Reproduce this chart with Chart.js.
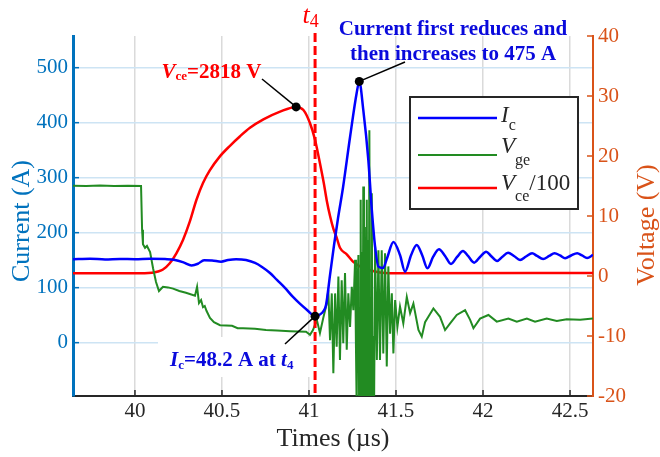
<!DOCTYPE html>
<html>
<head>
<meta charset="utf-8">
<script src="https://cdn.jsdelivr.net/npm/chart.js@4.4.0/dist/chart.umd.min.js"></script>
<style>
  html, body { margin: 0; padding: 0; background: #fff; }
  #wrap { width: 660px; height: 457px; }
</style>
</head>
<body>
<div id="wrap"><canvas id="turnOff" width="660" height="457"></canvas></div>
<script>
// Turn-off transient: collector current on the left axis,
// gate voltage and scaled collector voltage on the right axis.

const FONT = '"Liberation Serif", "Times New Roman", serif';

// collector current Ic (A)
const icTime = [39.644, 39.742, 39.828, 39.914, 40.000, 40.087, 40.173, 40.230, 40.282, 40.325,
  40.362, 40.397, 40.443, 40.495, 40.535, 40.581, 40.638, 40.690, 40.730, 40.776,
  40.816, 40.862, 40.908, 40.949, 40.989, 41.035, 41.063, 41.081, 41.098, 41.121,
  41.144, 41.167, 41.196, 41.236, 41.274, 41.289, 41.312, 41.341, 41.361, 41.380,
  41.399, 41.426, 41.449, 41.485, 41.523, 41.552, 41.587, 41.619, 41.650, 41.681,
  41.713, 41.747, 41.782, 41.816, 41.851, 41.885, 41.914, 41.949, 41.983, 42.018,
  42.046, 42.081, 42.110, 42.144, 42.178, 42.213, 42.247, 42.282, 42.311, 42.345,
  42.380, 42.411, 42.443, 42.472, 42.506, 42.541, 42.569, 42.598, 42.632];
const icValue = [151.6, 152.5, 151.3, 152.2, 151.8, 152.6, 151.9, 150.4, 145.5, 140.4,
  143.5, 149.8, 149.5, 147.3, 150.2, 151.8, 150.4, 144.9, 137.6, 126.7,
  114.0, 99.5, 83.1, 70.4, 59.5, 48.2, 51.3, 56.4, 68.5, 123.1,
  177.6, 226.7, 283.1, 374.0, 454.0, 475.0, 423.1, 332.2, 241.3, 174.0,
  138.2, 135.8, 154.0, 183.1, 159.5, 129.1, 159.5, 177.6, 159.5, 135.3,
  155.8, 169.8, 157.6, 143.1, 155.8, 166.7, 157.6, 145.5, 155.8, 165.5,
  157.6, 148.5, 155.8, 163.6, 157.6, 150.4, 156.7, 162.5, 157.6, 152.2,
  157.6, 162.5, 158.5, 153.5, 158.5, 162.5, 158.5, 154.0, 159.5];

// gate-emitter voltage Vge (V)
const vgeTime = [39.644, 39.720, 39.799, 39.880, 39.960, 40.035, 40.041, 40.046, 40.058, 40.069,
  40.087, 40.104, 40.121, 40.138, 40.161, 40.190, 40.219, 40.255, 40.293, 40.345,
  40.357, 40.368, 40.380, 40.391, 40.401, 40.411, 40.431, 40.454, 40.489, 40.558,
  40.590, 40.621, 40.690, 40.753, 40.816, 40.891, 40.983, 41.006, 41.023, 41.045,
  41.063, 41.082, 41.102, 41.111, 41.121, 41.131, 41.140, 41.150, 41.159, 41.169,
  41.178, 41.188, 41.197, 41.207, 41.217, 41.226, 41.236, 41.246, 41.255, 41.265,
  41.270, 41.274, 41.279, 41.284, 41.288, 41.292, 41.295, 41.297, 41.300, 41.304,
  41.308, 41.312, 41.316, 41.320, 41.324, 41.328, 41.332, 41.336, 41.339, 41.343,
  41.347, 41.351, 41.355, 41.358, 41.361, 41.365, 41.370, 41.374, 41.380, 41.390,
  41.399, 41.408, 41.418, 41.427, 41.437, 41.447, 41.456, 41.466, 41.476, 41.485,
  41.495, 41.508, 41.523, 41.542, 41.562, 41.581, 41.600, 41.629, 41.648, 41.667,
  41.686, 41.715, 41.753, 41.782, 41.811, 41.849, 41.897, 41.926, 41.945, 41.983,
  42.031, 42.079, 42.146, 42.194, 42.252, 42.299, 42.366, 42.424, 42.481, 42.558,
  42.632];
const vgeValue = [15.05, 15.00, 15.08, 15.00, 15.06, 15.00, 7.7, 5.3, 4.7, 5.0,
  4.0, 1.3, -1.0, -2.5, -1.8, -1.9, -2.1, -2.5, -2.8, -3.3,
  -1.8, -4.5, -4.0, -5.2, -5.0, -5.8, -7.0, -7.7, -8.2, -8.3,
  -8.7, -8.7, -8.8, -9.0, -9.1, -9.2, -9.3, -9.8, -9.0, -7.3,
  -9.5, -7.0, -4.6, -2.3, -10.7, -2.9, -16.2, -2.9, -11.8, -0.1,
  -14.0, -0.7, -11.2, 0.5, -12.3, -2.9, -8.5, -1.8, -5.7, 2.7,
  -12, -22, -2, 3.5, -22, -6, -22, 12.7, -22, 4,
  -22, 14.9, -22, 2, -22, 8, 12.7, -22, 6, -22,
  24.3, -22, -5, -18.5, 13.8, -22, -10, -22, 4.9, -14.0,
  4.3, -14.0, 4.3, -12.9, 3.8, -15.1, 1.6, -9.6, -2.9, -12.9,
  -4.0, -8.5, -5.1, -7.9, -3.5, -6.2, -4.6, -9.0, -10.1, -7.7,
  -6.8, -5.4, -6.8, -9.0, -7.9, -6.5, -5.7, -7.3, -8.7, -7.1,
  -6.5, -7.6, -7.1, -7.6, -7.1, -7.6, -7.1, -7.5, -7.2, -7.3,
  -7.1];

// collector-emitter voltage Vce (V), plotted divided by 100
const vceTime = [39.644, 40.056, 40.098, 40.132, 40.161, 40.200, 40.238, 40.276, 40.315, 40.353,
  40.391, 40.430, 40.487, 40.546, 40.604, 40.661, 40.738, 40.834, 40.926, 40.968,
  41.006, 41.035, 41.063, 41.085, 41.102, 41.121, 41.140, 41.159, 41.178, 41.217,
  41.253, 41.293, 41.351, 41.408, 41.466, 42.632];
const vceVolts = [45, 45, 53, 75, 108, 212, 378, 600, 905, 1267,
  1550, 1760, 1990, 2170, 2330, 2470, 2610, 2740, 2818, 2767,
  2545, 2267, 1880, 1550, 1260, 1000, 790, 640, 470, 360,
  240, 160, 95, 58, 45, 50];

const xTicks = [40, 40.5, 41, 41.5, 42, 42.5];
const currentTicks = [0, 100, 200, 300, 400, 500];
const voltageTicks = [-20, -10, 0, 10, 20, 30, 40];

const t4 = 41.035;
const icAtT4 = 48.2;
const icPeakTime = 41.289;
const icPeak = 475;
const vcePeakTime = 40.926;
const vcePeak = 2818;

const AXIS_BLUE = 'rgb(0,114,189)';
const AXIS_ORANGE = 'rgb(217,83,25)';
const IC_COLOR = '#0000ff';
const VGE_COLOR = '#228b22';
const VCE_COLOR = '#ff0000';
const NOTE_BLUE = 'rgb(10,10,220)';

function toPoints(ts, vs, k = 1) {
  return ts.map((t, i) => ({ x: t, y: vs[i] * k }));
}

// draw a run of text pieces left to right: [text, font, dy]
function textRun(ctx, x, y, parts) {
  let cx = x;
  for (const [text, font, dy] of parts) {
    ctx.font = font;
    ctx.fillText(text, cx, y + dy);
    cx += ctx.measureText(text).width;
  }
  return cx;
}

function seg(ctx, x1, y1, x2, y2) {
  ctx.beginPath();
  ctx.moveTo(x1, y1);
  ctx.lineTo(x2, y2);
  ctx.stroke();
}

function dot(ctx, x, y) {
  ctx.beginPath();
  ctx.arc(x, y, 4.5, 0, Math.PI * 2);
  ctx.fill();
}

const decorations = {
  id: 'decorations',
  beforeDatasetsDraw(chart) {
    // white backing behind the Ic label
    const ctx = chart.ctx;
    ctx.save();
    ctx.fillStyle = '#fff';
    ctx.fillRect(158, 337, 152, 40);
    ctx.restore();
  },
  afterDatasetsDraw(chart) {
    const { ctx, chartArea: a, scales: { x, yI, yV } } = chart;
    ctx.save();

    // t4 marker
    const xt = x.getPixelForValue(t4);
    ctx.strokeStyle = VCE_COLOR;
    ctx.lineWidth = 3;
    ctx.setLineDash([9, 4]);
    seg(ctx, xt, 33, xt, a.bottom);
    ctx.setLineDash([]);

    // leader lines and markers
    ctx.strokeStyle = '#000';
    ctx.fillStyle = '#000';
    ctx.lineWidth = 1.5;
    const vp = { x: x.getPixelForValue(vcePeakTime), y: yV.getPixelForValue(vcePeak / 100) };
    const ip = { x: x.getPixelForValue(icPeakTime), y: yI.getPixelForValue(icPeak) };
    const im = { x: xt, y: yI.getPixelForValue(icAtT4) };
    seg(ctx, vp.x, vp.y, 262, 79);
    seg(ctx, ip.x, ip.y, 405, 62);
    seg(ctx, im.x, im.y, 285, 344);
    dot(ctx, vp.x, vp.y);
    dot(ctx, ip.x, ip.y);
    dot(ctx, im.x, im.y);

    ctx.restore();
  },
  afterDraw(chart) {
    const { ctx, chartArea: a, scales: { x, yI, yV } } = chart;
    ctx.save();

    // inward tick marks
    ctx.lineWidth = 1.5;
    ctx.strokeStyle = AXIS_BLUE;
    currentTicks.forEach(v => { const y = yI.getPixelForValue(v); seg(ctx, a.left, y, a.left + 6, y); });
    ctx.strokeStyle = AXIS_ORANGE;
    voltageTicks.forEach(v => { const y = yV.getPixelForValue(v); seg(ctx, a.right - 6, y, a.right, y); });
    ctx.strokeStyle = '#262626';
    xTicks.forEach(v => { const px = x.getPixelForValue(v); seg(ctx, px, a.bottom, px, a.bottom - 6); });

    // vertical axis titles
    ctx.textAlign = 'center';
    ctx.textBaseline = 'middle';
    ctx.font = `26px ${FONT}`;
    ctx.fillStyle = AXIS_BLUE;
    ctx.save();
    ctx.translate(22, 221);
    ctx.rotate(-Math.PI / 2);
    ctx.fillText('Current (A)', 0, 0);
    ctx.restore();
    ctx.fillStyle = AXIS_ORANGE;
    ctx.save();
    ctx.translate(647, 225);
    ctx.rotate(-Math.PI / 2);
    ctx.fillText('Voltage (V)', 0, 0);
    ctx.restore();

    ctx.textAlign = 'left';
    ctx.textBaseline = 'alphabetic';

    // t4 label
    ctx.fillStyle = VCE_COLOR;
    textRun(ctx, 302.5, 23, [['t', `italic 26px ${FONT}`, 0], ['4', `18px ${FONT}`, 4]]);

    // Vce peak note
    textRun(ctx, 161.5, 78, [
      ['V', `italic bold 21px ${FONT}`, 0],
      ['ce', `bold 13px ${FONT}`, 2],
      ['=2818 V', `bold 21px ${FONT}`, 0]
    ]);

    // Ic notes
    ctx.fillStyle = NOTE_BLUE;
    ctx.textAlign = 'center';
    ctx.font = `bold 21px ${FONT}`;
    ctx.fillText('Current first reduces and', 453, 35);
    ctx.fillText('then increases to 475 A', 453, 60);
    ctx.textAlign = 'left';
    textRun(ctx, 170, 366, [
      ['I', `italic bold 21px ${FONT}`, 0],
      ['c', `bold 13px ${FONT}`, 3],
      ['=48.2 A at ', `bold 21px ${FONT}`, 0],
      ['t', `italic bold 21px ${FONT}`, 0],
      ['4', `bold 13px ${FONT}`, 3]
    ]);

    // legend
    ctx.fillStyle = '#fff';
    ctx.fillRect(410, 97, 168, 112);
    ctx.strokeStyle = '#262626';
    ctx.lineWidth = 2;
    ctx.strokeRect(410, 97, 168, 112);
    const rows = [
      { color: IC_COLOR, w: 2.5, y: 118, base: 122, parts: [['I', `italic 23px ${FONT}`, 0], ['c', `16px ${FONT}`, 8]] },
      { color: VGE_COLOR, w: 2, y: 155, base: 153, parts: [['V', `italic 23px ${FONT}`, 0], ['ge', `16px ${FONT}`, 12]] },
      { color: VCE_COLOR, w: 2.5, y: 188, base: 190, parts: [['V', `italic 23px ${FONT}`, 0], ['ce', `16px ${FONT}`, 11], ['/100', `23px ${FONT}`, 0]] }
    ];
    rows.forEach(r => {
      ctx.strokeStyle = r.color;
      ctx.lineWidth = r.w;
      seg(ctx, 418, r.y, 497, r.y);
      ctx.fillStyle = '#262626';
      textRun(ctx, 501, r.base, r.parts);
    });

    ctx.restore();
  }
};

new Chart(document.getElementById('turnOff'), {
  type: 'line',
  data: {
    datasets: [
      {
        label: 'Ic',
        data: toPoints(icTime, icValue),
        yAxisID: 'yI',
        borderColor: IC_COLOR,
        borderWidth: 2.5,
        cubicInterpolationMode: 'monotone',
        order: 0
      },
      {
        label: 'Vge',
        data: toPoints(vgeTime, vgeValue),
        yAxisID: 'yV',
        borderColor: VGE_COLOR,
        borderWidth: 2,
        tension: 0,
        order: 1
      },
      {
        label: 'Vce/100',
        data: toPoints(vceTime, vceVolts, 1 / 100),
        yAxisID: 'yV',
        borderColor: VCE_COLOR,
        borderWidth: 2.5,
        cubicInterpolationMode: 'monotone',
        order: 2
      }
    ]
  },
  options: {
    responsive: false,
    animation: false,
    devicePixelRatio: 1,
    layout: { padding: { top: 36, left: 0, right: 0, bottom: 0 } },
    elements: { point: { radius: 0 } },
    plugins: {
      legend: { display: false },
      tooltip: { enabled: false }
    },
    scales: {
      x: {
        type: 'linear',
        min: 39.644,
        max: 42.632,
        afterBuildTicks: s => { s.ticks = xTicks.map(v => ({ value: v })); },
        afterFit: s => { s.height = 61; },
        grid: { color: 'rgb(218,218,218)', lineWidth: 1.5, drawTicks: false },
        border: { color: '#262626', width: 2 },
        ticks: {
          color: '#262626',
          font: { family: FONT, size: 21 },
          padding: 3,
          maxRotation: 0,
          callback: v => String(v)
        },
        title: {
          display: true,
          text: 'Times (µs)',
          color: '#262626',
          font: { family: FONT, size: 26 },
          padding: { top: 0, bottom: 2 }
        }
      },
      yI: {
        type: 'linear',
        position: 'left',
        min: -97,
        max: 557.6,
        afterBuildTicks: s => { s.ticks = currentTicks.map(v => ({ value: v })); },
        afterFit: s => { s.width = 73; },
        grid: { color: 'rgb(205,228,244)', lineWidth: 1.5, drawTicks: false },
        border: { color: AXIS_BLUE, width: 3 },
        ticks: {
          color: AXIS_BLUE,
          font: { family: FONT, size: 21 },
          padding: 5,
          callback: v => String(v)
        }
      },
      yV: {
        type: 'linear',
        position: 'right',
        min: -20,
        max: 40,
        afterBuildTicks: s => { s.ticks = voltageTicks.map(v => ({ value: v })); },
        afterFit: s => { s.width = 67; },
        grid: { drawOnChartArea: false, drawTicks: false },
        border: { color: AXIS_ORANGE, width: 2 },
        ticks: {
          color: AXIS_ORANGE,
          font: { family: FONT, size: 21 },
          padding: 5,
          callback: v => String(v)
        }
      }
    }
  },
  plugins: [decorations]
});
</script>
</body>
</html>
